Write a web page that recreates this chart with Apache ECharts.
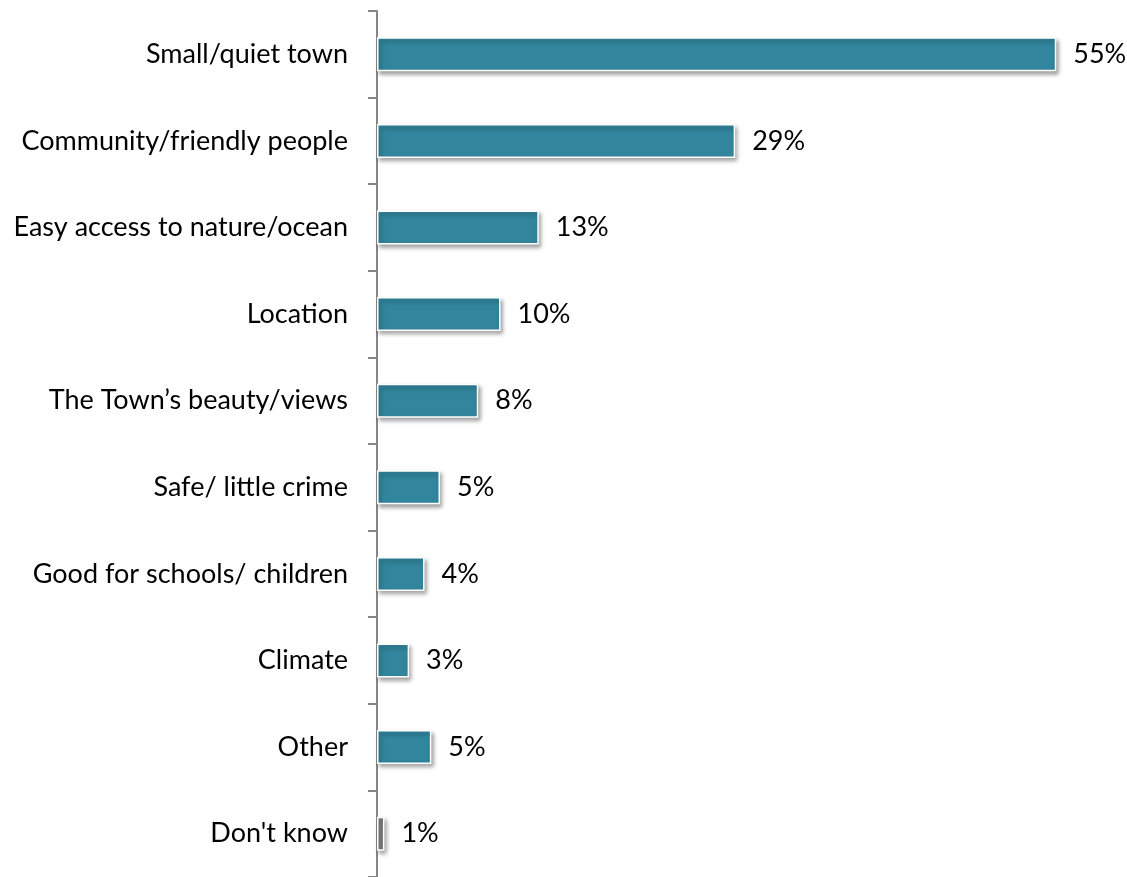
<!DOCTYPE html>
<html>
<head>
<meta charset="utf-8">
<script src="https://cdn.jsdelivr.net/npm/echarts@6/dist/echarts.min.js"></script>
<style>
html,body{margin:0;padding:0;background:#fff;}
#chart{width:1127px;height:877px;}
</style>
</head>
<body>
<div id="chart"></div>
<script>
var categories = ["Small/quiet town","Community/friendly people","Easy access to nature/ocean","Location","The Town\u2019s beauty/views","Safe/ little crime","Good for schools/ children","Climate","Other","Don't know"];
var values = [55, 29, 13.1, 10, 8.2, 5.1, 3.85, 2.6, 4.4, 0.6];
var valueLabels = ["55%","29%","13%","10%","8%","5%","4%","3%","5%","1%"];
var barColors = ["#31859C","#31859C","#31859C","#31859C","#31859C","#31859C","#31859C","#31859C","#31859C","#7F7F7F"];

var chart = echarts.init(document.getElementById('chart'), null, {renderer:'canvas'});
var font = 'Lato';
chart.setOption({
  animation:false,
  backgroundColor:'#ffffff',
  grid:{left:377, right:9, top:11, bottom:0, containLabel:false},
  xAxis:{type:'value', min:0, max:60, show:false},
  yAxis:{
    type:'category', inverse:true, data:categories,
    axisLine:{show:true, lineStyle:{color:'#868686', width:2}},
    axisTick:{show:true, length:9, lineStyle:{color:'#868686', width:2}},
    axisLabel:{color:'#000', fontFamily:font, fontSize:27, margin:29, padding:[3,0,0,0]},
    splitLine:{show:false}
  },
  series:[{
    type:'bar',
    barWidth:34,
    data: values.map(function(v,i){
      return {value:v, itemStyle:{color:barColors[i]}};
    }),
    itemStyle:{
      borderColor:'#ffffff', borderWidth:1.5,
      shadowBlur:4, shadowColor:'rgba(0,0,0,0.35)', shadowOffsetX:2, shadowOffsetY:3
    },
    label:{
      show:true, position:'right', distance:17,
      color:'#000', fontFamily:font, fontSize:27, padding:[5,0,0,0],
      formatter:function(p){return valueLabels[p.dataIndex];}
    }
  }]
});
</script>
</body>
</html>
